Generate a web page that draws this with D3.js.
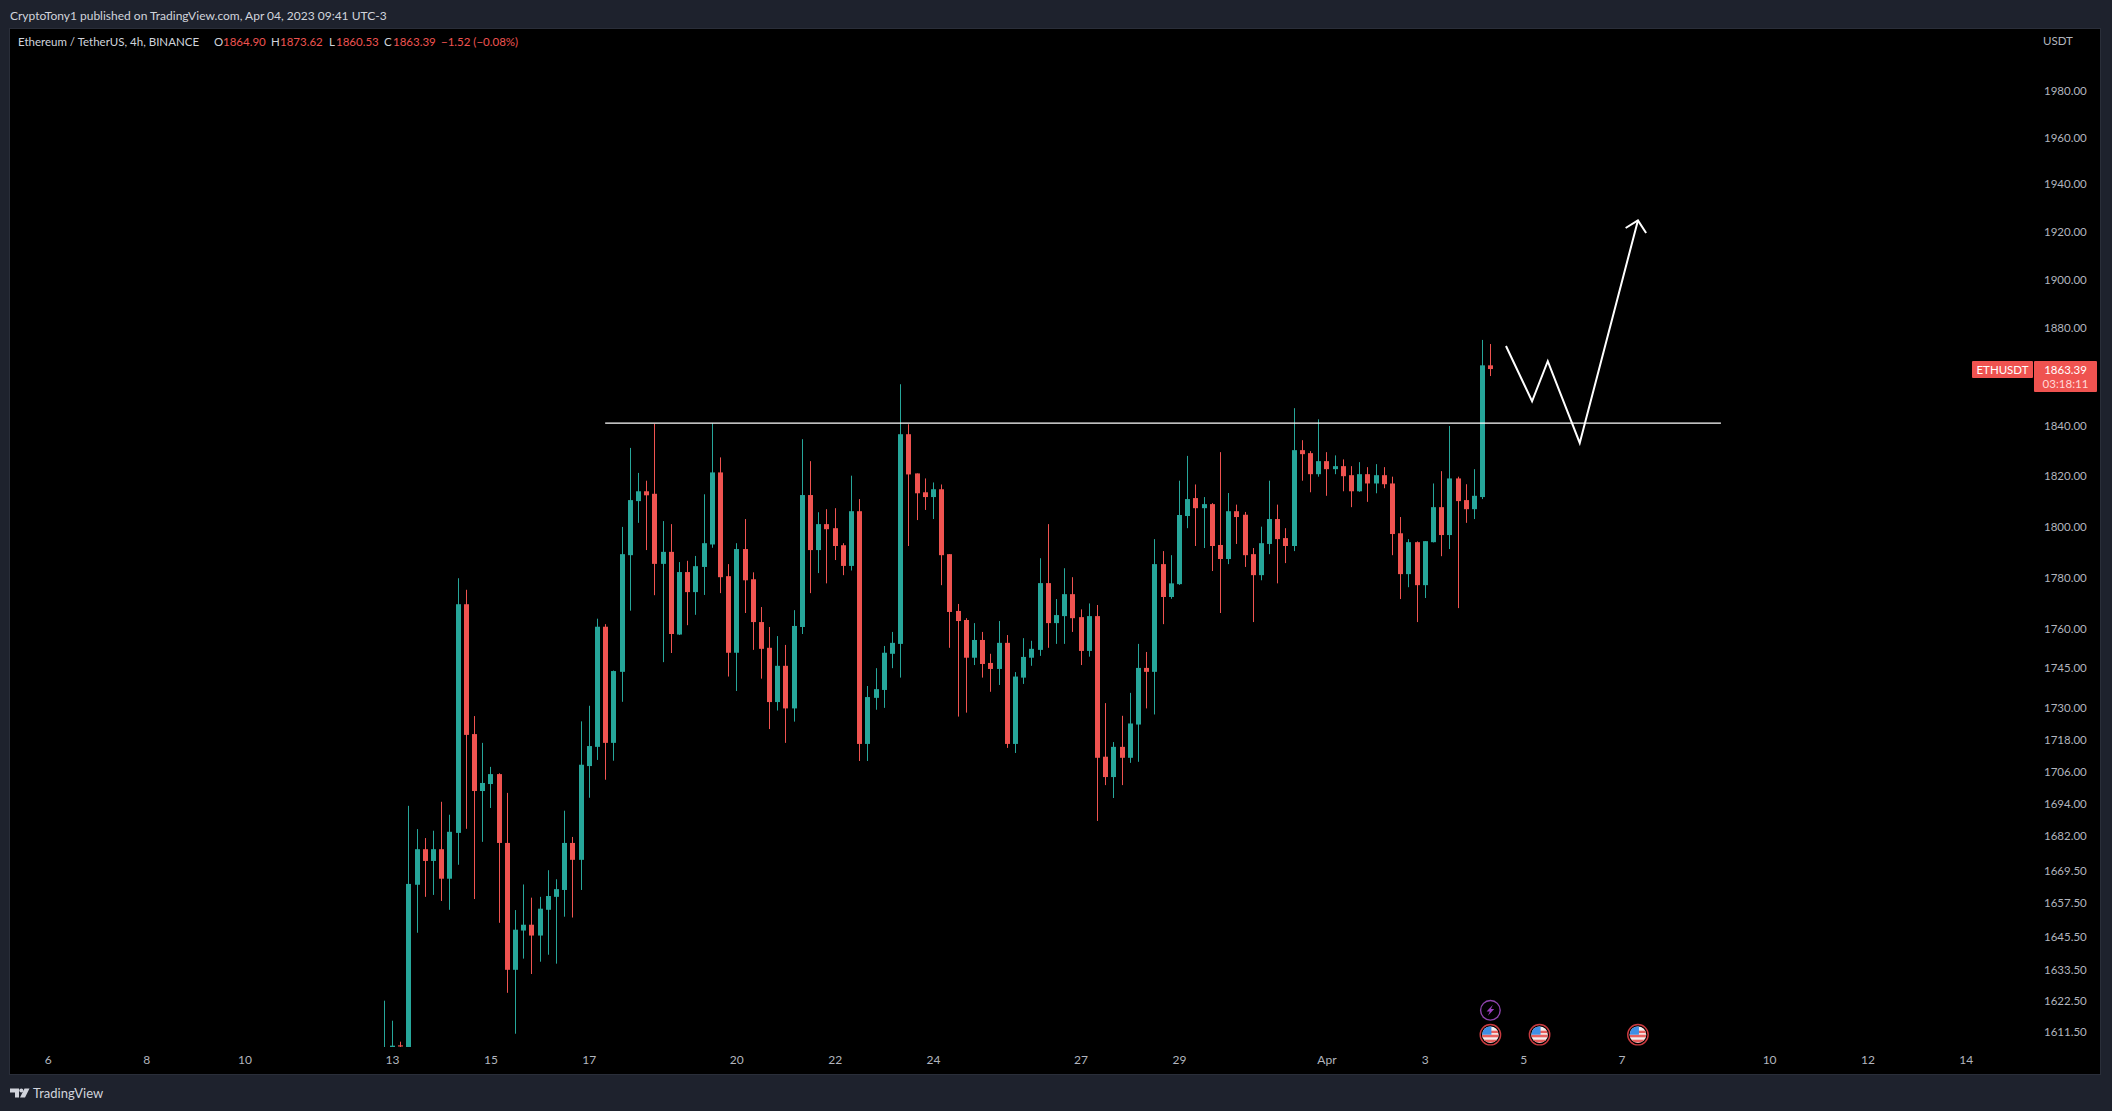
<!DOCTYPE html>
<html>
<head>
<meta charset="utf-8">
<title>ETHUSDT 4h</title>
<script src="https://cdn.jsdelivr.net/npm/d3@7"></script>
<style>
    html, body { margin: 0; padding: 0; background: #1e222d; overflow: hidden; }
    svg { display: block; }
    text { font-family: Lato, sans-serif; }
</style>
</head>
<body>
<div id="data"></div>
<script>
const opens = [1600, 1606.4, 1607, 1604,
    1664.5, 1677.5, 1673.2, 1677.5, 1666.7, 1683.5, 1769.9, 1720.3, 1699, 1701.6,
    1705.3, 1679.8, 1633.8, 1647.9, 1650, 1646.1, 1655.4, 1660.1, 1662.6, 1679.8,
    1673.6, 1708.3, 1715.5, 1761.2, 1717, 1743.9, 1789, 1810.3, 1814.2, 1813.2,
    1785.6, 1790.3, 1758.2, 1782.4, 1774.6, 1784.4, 1793.2, 1821.7, 1780.8, 1751.2,
    1791.4, 1779.6, 1763, 1753.1, 1732.4, 1746.2, 1730, 1761.1, 1812.7, 1791,
    1801.2, 1799.6, 1792.9, 1784.8, 1806.3, 1716.6, 1734, 1737, 1750.8, 1754.6,
    1837, 1821.3, 1813.8, 1811.9, 1815, 1789.4, 1767.3, 1763.8, 1749.3, 1756.1,
    1747.3, 1745, 1755, 1716.6, 1741.7, 1749.3, 1752.3, 1778.1, 1762.6, 1765.3,
    1773.8, 1764.9, 1751.9, 1765.3, 1711.8, 1704.2, 1715.5, 1711.4, 1723.9, 1745.4,
    1743.9, 1785.5, 1772.7, 1777.7, 1804.4, 1811.5, 1807.5, 1809.1, 1793, 1787.5,
    1806.3, 1804.9, 1789.4, 1781.2, 1793.4, 1803.2, 1795.7, 1792.6, 1830.6, 1829.4,
    1821, 1826.2, 1823, 1824.2, 1820.6, 1814.2, 1821, 1817.3, 1820.6, 1817.3,
    1797.6, 1781.6, 1794.1, 1777.3, 1794.1, 1807.9, 1796.9, 1819.3, 1810.7, 1807.1,
    1811.9, 1864.9];
const highs = [1622.8, 1615.7, 1608.3, 1693.5,
    1684.9, 1681.6, 1684.3, 1695, 1690.2, 1780, 1775.5, 1727.1, 1717, 1708,
    1705.6, 1698.3, 1655.3, 1664.6, 1659.8, 1660.1, 1669.8, 1666.5, 1691.7, 1682,
    1725.1, 1731, 1764.3, 1762.2, 1744.4, 1800.1, 1831.5, 1821.5, 1818.4, 1841.2,
    1802.4, 1801.2, 1786.3, 1786.8, 1788.7, 1813, 1841.4, 1827.7, 1785.5, 1793.7,
    1803.2, 1782.3, 1768.8, 1761.1, 1757.6, 1754.2, 1767.6, 1835, 1826.2, 1805.9,
    1807.1, 1807.5, 1793.7, 1820.4, 1811.1, 1738.5, 1745.3, 1753.8, 1759.2, 1857.2,
    1841, 1821.3, 1819.3, 1817.7, 1816.9, 1789.4, 1770, 1764.5, 1762.6, 1759.2,
    1750.8, 1763.4, 1758, 1743.8, 1756.8, 1755.8, 1787.8, 1801.2, 1771.9, 1783.9,
    1780.4, 1767.9, 1770.2, 1769.6, 1732, 1717.3, 1727.2, 1735.9, 1754.6, 1751.5,
    1795.3, 1790.6, 1789, 1818.4, 1828.3, 1816.9, 1811.9, 1809.5, 1829.8, 1813.5,
    1808.9, 1806, 1791.8, 1800.2, 1818.4, 1808.9, 1799.6, 1847.5, 1834.6, 1830.2,
    1843, 1829.8, 1828.5, 1826.9, 1824.2, 1825.8, 1823.8, 1825, 1823.8, 1820,
    1804, 1795.3, 1794.4, 1794.5, 1817.3, 1822.2, 1840.3, 1820, 1817, 1823,
    1875.3, 1873.62];
const lows = [1598, 1604, 1604, 1600,
    1647.1, 1660.1, 1660.8, 1658.6, 1655.4, 1671.8, 1685, 1659.3, 1680.2, 1692.7,
    1650.7, 1625.6, 1611.1, 1637.8, 1632.3, 1636.7, 1639.2, 1636, 1652.9, 1652.6,
    1662.6, 1696.5, 1710.6, 1703.2, 1710.3, 1732.5, 1767.4, 1801.7, 1791, 1773.4,
    1747.6, 1751.1, 1758, 1761.8, 1765.8, 1773.5, 1791.9, 1774.2, 1742.1, 1736.6,
    1766.5, 1752.3, 1741.3, 1722.2, 1729.2, 1717, 1725, 1758.4, 1774.2, 1782,
    1778, 1787.1, 1781.2, 1783, 1710.2, 1710.2, 1729.5, 1730.2, 1745.3, 1741.7,
    1792.6, 1802.8, 1806.8, 1803.2, 1777.3, 1753.1, 1726.9, 1728.4, 1746.5, 1741.7,
    1736.3, 1738.9, 1715.1, 1713.2, 1739.3, 1746.2, 1750, 1753.1, 1754.6, 1754.6,
    1759.2, 1746.5, 1749.7, 1687.9, 1701.2, 1696.4, 1701.2, 1709.5, 1709.9, 1730,
    1727.7, 1762.2, 1772, 1777.4, 1799.6, 1792.6, 1791.8, 1782.8, 1766.5, 1785.5,
    1793.4, 1784.4, 1763, 1779.2, 1789.4, 1778, 1785.9, 1790.6, 1818.4, 1813.8,
    1820, 1812.4, 1821, 1814.2, 1807.9, 1814, 1810, 1813.4, 1815.4, 1789,
    1771.9, 1776.5, 1763, 1772.3, 1794, 1788.6, 1791.4, 1768.4, 1801.7, 1803.2,
    1811.1, 1860.53];
const closes = [1603, 1606.9, 1606.6, 1664.8,
    1677.5, 1673.2, 1677.5, 1666.7, 1683.9, 1769.9, 1720, 1699, 1702, 1705.3,
    1679.8, 1633.8, 1648.2, 1650, 1646.1, 1655.8, 1660.4, 1662.9, 1679.8, 1673.6,
    1708.8, 1715.8, 1761.2, 1717, 1744.2, 1789.4, 1810.7, 1814.2, 1812.6, 1785.6,
    1790.3, 1758.4, 1782.4, 1774.6, 1784.7, 1793.7, 1821.7, 1780.4, 1751.2, 1791.4,
    1779.2, 1763, 1752.7, 1732.4, 1746.2, 1730, 1761.5, 1812.7, 1791, 1801.2,
    1799.2, 1792.6, 1784.8, 1806.3, 1716.6, 1734.3, 1737.3, 1751.2, 1755, 1837,
    1820.9, 1813.4, 1811.9, 1815, 1789, 1766.9, 1763.4, 1749.3, 1756.1, 1746.9,
    1745, 1755, 1716.6, 1742.1, 1749.6, 1752.7, 1778.1, 1762.6, 1765.7, 1773.8,
    1764.5, 1751.9, 1765.3, 1711.4, 1704.2, 1715.5, 1711.4, 1724.3, 1745.4, 1743.9,
    1785.5, 1772.7, 1778, 1804.8, 1811.1, 1807.5, 1809.1, 1792.6, 1787.5, 1806.3,
    1804, 1789, 1781.2, 1793.7, 1803.2, 1795.3, 1792.6, 1830.6, 1829, 1821,
    1826.2, 1823, 1824.2, 1820.2, 1814.2, 1821, 1817.3, 1820.6, 1817, 1797.3,
    1781.6, 1794.1, 1777.3, 1794.5, 1807.9, 1796.9, 1819.3, 1810.3, 1807.1, 1812.4,
    1864.9, 1863.39];

const priceTicks = [1980, 1960, 1940, 1920, 1900, 1880, 1840, 1820, 1800, 1780, 1760, 1745, 1730, 1718, 1706, 1694, 1682, 1669.5, 1657.5, 1645.5, 1633.5, 1622.5, 1611.5];
const dayTicks = ['2023-03-06', '2023-03-08', '2023-03-10', '2023-03-13', '2023-03-15', '2023-03-17', '2023-03-20', '2023-03-22', '2023-03-24', '2023-03-27', '2023-03-29', '2023-04-01', '2023-04-03', '2023-04-05', '2023-04-07', '2023-04-10', '2023-04-12', '2023-04-14'];
const dayLabels = ['6', '8', '10', '13', '15', '17', '20', '22', '24', '27', '29', 'Apr', '3', '5', '7', '10', '12', '14'];

// hand drawn lines, [time, price]
const levelLine = [['2023-03-17T08:00Z', 1841.5], ['2023-04-09T00:30Z', 1841.5]];
const zigzag = [['2023-04-04T15:36Z', 1872.8], ['2023-04-05T04:20Z', 1850.3], ['2023-04-05T12:00Z', 1866.6], ['2023-04-06T03:36Z', 1833.5], ['2023-04-07T08:00Z', 1925]];
const arrowHead = [['2023-04-07T02:00Z', 1921.8], ['2023-04-07T08:00Z', 1925], ['2023-04-07T12:00Z', 1919.7]];

const flagEvents = ['2023-04-04T08:00Z', '2023-04-05T08:00Z', '2023-04-07T08:00Z'];
const boltEvents = ['2023-04-04T08:00Z'];

const legendParts = [['Ethereum / TetherUS, 4h, BINANCE', 18, '#d1d4dc'], ['O', 214, '#d1d4dc'], ['1864.90', 223, '#ef5350'], ['H', 271, '#d1d4dc'], ['1873.62', 280, '#ef5350'], ['L', 329, '#d1d4dc'], ['1860.53', 336, '#ef5350'], ['C', 384, '#d1d4dc'], ['1863.39', 393, '#ef5350'], ['\u22121.52 (\u22120.08%)', 441, '#ef5350']];

const w = 2112;
const h = 1111;
const green = '#26a69a';
const red = '#ef5350';
const label = '#b2b5be';

const startBar = Date.UTC(2023, 2, 12, 20);
const barMs = 4 * 3600 * 1000;

const svg = d3.select('#data').append('svg').attr('width', w).attr('height', h);

svg.append('rect').attr('width', w).attr('height', h).attr('fill', '#1e222d');
svg.append('rect').attr('x', 9.5).attr('y', 28.5).attr('width', 2091).attr('height', 1046)
    .attr('fill', '#000').attr('stroke', '#2a2e39').attr('stroke-width', 1);

svg.append('clipPath').attr('id', 'pane').append('rect')
    .attr('x', 10).attr('y', 29).attr('width', 2030).attr('height', 1018);

const xScale = d3.scaleUtc().domain([new Date('2023-03-06'), new Date('2023-04-14')]).range([47.8, 1965.8]);
const yScale = d3.scaleLog().domain([1980, 1611.5]).range([91.7, 1032.6]);

const xAxis = d3.axisBottom(xScale).tickValues(dayTicks.map(d => new Date(d))).tickSize(0)
    .tickFormat((d, i) => dayLabels[i]);
const yAxis = d3.axisRight(yScale).tickValues(priceTicks).tickSize(0).tickFormat(d3.format('.2f'));

const gx = svg.append('g').attr('transform', 'translate(0,1052)').call(xAxis);
gx.select('.domain').remove();
gx.selectAll('text').attr('fill', label).style('font-size', '12px').style('font-family', 'Lato, sans-serif');

const gy = svg.append('g').attr('transform', 'translate(2044,-0.7)').call(yAxis);
gy.select('.domain').remove();
gy.selectAll('text').attr('x', 0).attr('fill', label).style('font-size', '11.5px').style('font-family', 'Lato, sans-serif');

const barTime = i => new Date(startBar + i * barMs);
const bars = d3.range(opens.length);
const candles = svg.append('g').attr('clip-path', 'url(#pane)');

candles.selectAll('line').data(bars).enter().append('line')
    .attr('x1', i => Math.round(xScale(barTime(i))) + 0.5)
    .attr('x2', i => Math.round(xScale(barTime(i))) + 0.5)
    .attr('y1', i => yScale(highs[i]))
    .attr('y2', i => yScale(lows[i]))
    .attr('stroke', i => closes[i] >= opens[i] ? green : red)
    .attr('stroke-width', 1);

candles.selectAll('rect').data(bars).enter().append('rect')
    .attr('x', i => Math.round(xScale(barTime(i))) - 2)
    .attr('y', i => yScale(Math.max(opens[i], closes[i])))
    .attr('width', 5)
    .attr('height', i => Math.max(1, yScale(Math.min(opens[i], closes[i])) - yScale(Math.max(opens[i], closes[i]))))
    .attr('fill', i => closes[i] >= opens[i] ? green : red);

const drawn = d3.line().x(d => xScale(new Date(d[0]))).y(d => yScale(d[1]));
svg.append('path').attr('d', drawn(levelLine)).attr('fill', 'none').attr('stroke', '#fff').attr('stroke-width', 1.3);
svg.append('path').attr('d', drawn(zigzag)).attr('fill', 'none').attr('stroke', '#fff').attr('stroke-width', 2);
svg.append('path').attr('d', drawn(arrowHead)).attr('fill', 'none').attr('stroke', '#fff').attr('stroke-width', 2);

// event badges
const flag = svg.selectAll('g.flag').data(flagEvents).enter().append('g').attr('class', 'flag')
    .attr('transform', d => `translate(${xScale(new Date(d))},1034.7)`);
svg.append('clipPath').attr('id', 'disc').append('circle').attr('r', 8.3);
flag.append('circle').attr('r', 10.2).attr('fill', '#000').attr('stroke', '#c93a3f').attr('stroke-width', 1.4);
const disc = flag.append('g').attr('clip-path', 'url(#disc)');
disc.append('rect').attr('x', -9).attr('y', -9).attr('width', 18).attr('height', 18).attr('fill', '#f4eeee');
disc.append('rect').attr('x', -9).attr('y', 0).attr('width', 18).attr('height', 2.6).attr('fill', '#e8605f');
disc.append('rect').attr('x', -9).attr('y', 5).attr('width', 18).attr('height', 2.8).attr('fill', '#e8605f');
disc.append('rect').attr('x', 0).attr('y', -4).attr('width', 9).attr('height', 2.4).attr('fill', '#e8605f');
disc.append('rect').attr('x', -9).attr('y', -9).attr('width', 10).attr('height', 9).attr('fill', '#3f8fe6');

const bolt = svg.selectAll('g.bolt').data(boltEvents).enter().append('g').attr('class', 'bolt')
    .attr('transform', d => `translate(${xScale(new Date(d))},1010.3)`);
bolt.append('circle').attr('r', 9.8).attr('fill', '#000').attr('stroke', '#8e44ad').attr('stroke-width', 1.4);
bolt.append('path').attr('d', 'M2.5,-5.5L-3.8,1.2L-0.6,1.2L-2.5,5.5L3.8,-1.2L0.6,-1.2Z').attr('fill', '#9b3fc0');

// last price badges
svg.append('rect').attr('x', 1972).attr('y', 361).attr('width', 61).attr('height', 17).attr('rx', 1).attr('fill', red);
svg.append('rect').attr('x', 2034).attr('y', 361).attr('width', 63).attr('height', 31).attr('rx', 1).attr('fill', red);
svg.append('text').attr('x', 2002.5).attr('y', 374).attr('text-anchor', 'middle').attr('fill', '#fff').style('font-size', '11.5px').text('ETHUSDT');
svg.append('text').attr('x', 2065.5).attr('y', 374).attr('text-anchor', 'middle').attr('fill', '#fff').style('font-size', '11.5px').text('1863.39');
svg.append('text').attr('x', 2065.5).attr('y', 388).attr('text-anchor', 'middle').attr('fill', '#ffd9d8').style('font-size', '11.5px').text('03:18:11');
svg.append('text').attr('x', 2043).attr('y', 45).attr('fill', label).style('font-size', '11.5px').text('USDT');

// header and footer
svg.append('text').attr('x', 10).attr('y', 19.5).attr('fill', '#d1d4dc').style('font-size', '12px')
    .text('CryptoTony1 published on TradingView.com, Apr 04, 2023 09:41 UTC-3');
svg.selectAll('text.legend').data(legendParts).enter().append('text').attr('class', 'legend')
    .attr('x', d => d[1]).attr('y', 46).attr('fill', d => d[2]).style('font-size', '11.5px').text(d => d[0]);

const logo = svg.append('g').attr('fill', '#d1d4dc');
logo.append('path').attr('d', 'M10,1088.5H19V1097.5H15V1092.5H10Z');
logo.append('circle').attr('cx', 21.3).attr('cy', 1090.5).attr('r', 2);
logo.append('path').attr('d', 'M24.5,1088.5H29.5L25,1097.5H20Z');
svg.append('text').attr('x', 33).attr('y', 1098).attr('fill', '#d1d4dc').style('font-size', '13px').text('TradingView');
</script>
</body>
</html>
